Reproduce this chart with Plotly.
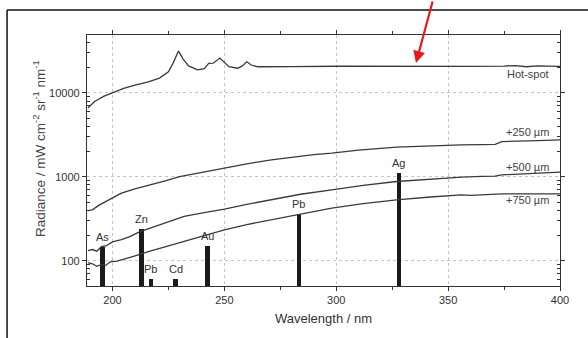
import math
import plotly.graph_objects as go

# ---------------- data ----------------
wl_hot = [189, 192, 196, 200, 205, 210, 216, 221, 225, 227, 229.5, 231.5, 234, 238, 241, 243, 245,
          248, 250, 252, 256, 258, 260, 262, 265, 270, 280, 300, 320, 340, 360, 375, 380, 385, 390, 400]
hot = [6600, 7900, 9100, 10000, 11300, 12400, 13500, 15000, 17800, 22500, 31500, 25500, 21000, 18800,
       19500, 22500, 22600, 26000, 22800, 20500, 19700, 21000, 23500, 21500, 20500, 20400, 20600, 20800,
       20700, 20800, 20700, 20900, 21200, 20500, 21000, 20700]

wl_250 = [189, 191, 194, 196, 200, 204, 210, 217, 224, 230, 240, 250, 260, 271, 280, 290, 298,
          310, 327, 340, 356, 365, 371, 374, 380, 390, 400]
rad_250 = [395, 404, 460, 490, 560, 640, 720, 803, 900, 1008, 1140, 1270, 1430, 1592, 1720, 1840, 1914,
           2080, 2260, 2340, 2400, 2420, 2440, 2630, 2640, 2700, 2760]

wl_500 = [189, 191, 193, 195, 197, 200, 204, 208, 212, 218, 224, 232, 241, 250, 260, 271, 284, 298,
          312, 327, 340, 356, 365, 371, 374, 385, 400]
rad_500 = [132, 136, 130, 147, 150, 168, 178, 195, 221, 250, 283, 337, 375, 412, 470, 532, 620, 700,
           790, 880, 930, 990, 1010, 1020, 1057, 1090, 1137]

wl_750 = [189, 191, 193, 195, 197, 199, 202, 205, 209, 216, 223, 230, 240, 250, 260, 270, 283, 298,
          312, 327, 342, 356, 360, 365, 374, 385, 400]
rad_750 = [95, 92, 86, 90, 88, 97, 99, 104, 112, 128, 145, 164, 198, 234, 270, 305, 353, 424,
           480, 532, 575, 611, 600, 612, 628, 625, 628]

elements = ["As", "Zn", "Pb", "Cd", "Au", "Pb", "Ag"]
element_wl = [195.5, 213.0, 217.2, 228.2, 242.4, 283.3, 328.0]
element_peak = [147, 240, 61, 60, 150, 363, 1120]

series_names = ["Hot-spot", "+250 µm", "+500 µm", "+750 µm"]
x_ticks = [200, 250, 300, 350, 400]
x_minor = [225, 275, 325, 375]
y_ticks = [100, 1000, 10000]
y_tick_text = ["100", "1000", "10000"]
y_minor = [m * 10 ** k for k in (1, 2, 3, 4) for m in range(2, 10) if 50 < m * 10 ** k < 49000]

# ---------------- figure ----------------
LINE = "#3a3a3a"
FONT = "Liberation Sans, Arial, sans-serif"

fig = go.Figure()
for wl, vals in [(wl_hot, hot), (wl_250, rad_250), (wl_500, rad_500), (wl_750, rad_750)]:
    fig.add_trace(go.Scatter(x=wl, y=vals, mode="lines", line=dict(color=LINE, width=1.3),
                             hoverinfo="skip", showlegend=False))

fig.add_trace(go.Bar(x=element_wl, y=element_peak, width=1.9, marker=dict(color="#1b1b1b", line=dict(width=0)),
                     showlegend=False, hoverinfo="skip"))

# element labels
for name, x, y in zip(elements, element_wl, element_peak):
    fig.add_annotation(x=x, y=math.log10(y), text=name, showarrow=False, yanchor="bottom",
                       yshift=2, font=dict(family=FONT, size=11, color="#333"))

# series labels (right side)
label_y = [21500 / 1.27, 2760 * 1.25, 1137 * 1.16, 628 / 1.2]
for name, y in zip(series_names, label_y):
    fig.add_annotation(x=396, y=math.log10(y), text=name, showarrow=False, xanchor="right",
                       font=dict(family=FONT, size=11, color="#444"))

axis_common = dict(showline=True, linecolor="#333", linewidth=1.3, mirror="allticks",
                   ticks="outside", ticklen=4, tickcolor="#333", showgrid=True,
                   gridcolor="#c4c4c4", griddash="dot", gridwidth=1, zeroline=False,
                   automargin=False,
                   tickfont=dict(family=FONT, size=11, color="#333"))

fig.update_xaxes(range=[188.6, 400], tickvals=x_ticks, ticktext=[str(v) for v in x_ticks],
                 minor=dict(tickvals=x_minor, ticks="outside", ticklen=3, tickcolor="#333", showgrid=False),
                 title=dict(text="Wavelength / nm", standoff=8, font=dict(family=FONT, size=13, color="#333")),
                 **axis_common)
fig.update_yaxes(type="log", range=[math.log10(50), math.log10(49000)], tickvals=y_ticks,
                 ticktext=y_tick_text,
                 minor=dict(tickvals=y_minor, ticks="inside", ticklen=3, tickcolor="#333", showgrid=False),
                 **axis_common)

# y-axis title placed as rotated text
fig.add_annotation(xref="paper", yref="paper", x=(28 - 87) / 473, y=(286 - 149) / 251,
                   text="Radiance / mW cm<sup>-2</sup> sr<sup>-1</sup> nm<sup>-1</sup>",
                   textangle=-90, showarrow=False, font=dict(family=FONT, size=13.5, color="#444"))

# outer frame lines (scan border)
fig.add_shape(type="line", xref="paper", yref="paper", x0=-0.169, x1=1.06, y0=1.0996, y1=1.0996,
              line=dict(color="#111", width=1.5))
fig.add_shape(type="line", xref="paper", yref="paper", x0=-0.169, x1=-0.169, y0=1.0996, y1=-0.22,
              line=dict(color="#111", width=1.5))

# red arrow
fig.add_annotation(xref="paper", yref="paper", x=(416 - 87) / 473, y=(286 - 63) / 251, ax=17, ay=-64,
                   text="", showarrow=True, arrowhead=2, arrowsize=1.1, arrowwidth=2.2,
                   arrowcolor="#e41a1c")

fig.update_layout(width=588, height=338, margin=dict(l=87, r=28, t=35, b=52, autoexpand=False),
                  plot_bgcolor="white", paper_bgcolor="white", bargap=0,
                  font=dict(family=FONT, size=11, color="#333"))

fig.write_html("out.html", config={"displayModeBar": False},
               post_script="document.body.style.margin='0';document.body.style.overflow='hidden';")
